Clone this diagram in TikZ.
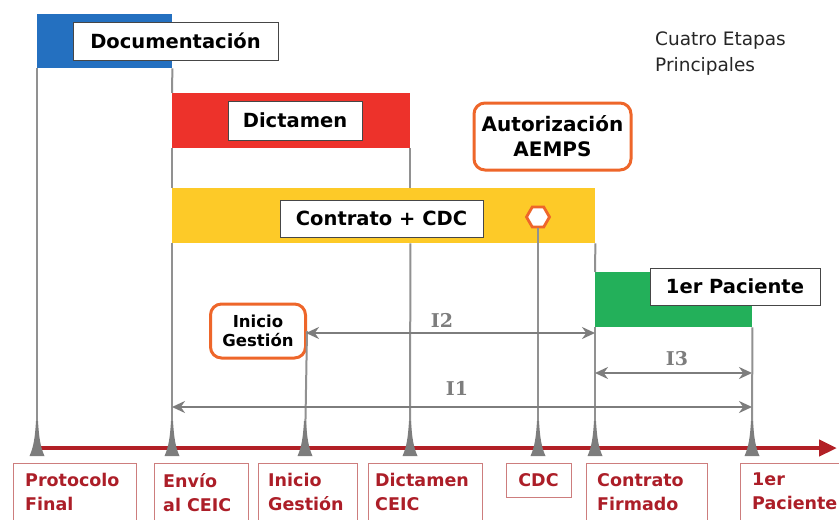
\documentclass[tikz,border=0pt]{standalone}
\usepackage{fontspec}
\setmainfont{DejaVu Sans}
\newfontfamily\serifb{DejaVu Serif}
\usetikzlibrary{arrows.meta,shapes.geometric}
\definecolor{docblue}{RGB}{36,112,192}
\definecolor{dicred}{RGB}{237,50,43}
\definecolor{ctryellow}{RGB}{253,202,40}
\definecolor{pacgreen}{RGB}{35,176,90}
\definecolor{orng}{RGB}{238,102,42}
\definecolor{axisred}{RGB}{178,32,38}
\definecolor{lbltext}{RGB}{172,30,40}
\definecolor{lblborder}{RGB}{205,125,125}
\definecolor{vgrey}{RGB}{145,145,145}
\definecolor{agrey}{RGB}{125,125,125}
\definecolor{lblframe}{RGB}{70,70,70}
\tikzset{
  bar/.style={anchor=north west, inner sep=0pt, draw=none},
  stagelbl/.style={draw=lblframe, line width=1pt, fill=white, inner sep=0pt, font=\bfseries\fontsize{19.5}{22}\selectfont},
  obox/.style={draw=orng, line width=3pt, rounded corners=11pt, fill=white, inner sep=0pt, align=center},
  vline/.style={draw=vgrey, line width=2pt},
  dimarrow/.style={draw=agrey, line width=2.6pt, {Stealth[length=13pt,width=12pt]}-{Stealth[length=13pt,width=12pt]}},
  dimlbl/.style={text=agrey, font=\serifb\bfseries\fontsize{19}{21}\selectfont, inner sep=0pt},
  botbox/.style={draw=lblborder, line width=1.3pt, anchor=north west, inner sep=0pt},
  bottxt/.style={text=lbltext, anchor=north west, inner sep=0pt, align=left, font=\bfseries\fontsize{17.5}{24}\selectfont},
  tick/.style={fill=agrey}
}
\newcommand{\ticktri}[1]{\fill[tick] (#1-1,421) -- (#1+1,421) .. controls (#1+2,438) and (#1+3.5,447) .. (#1+7.5,456) -- (#1-7.5,456) .. controls (#1-3.5,447) and (#1-2,438) .. cycle;}
\begin{document}
\begin{tikzpicture}[x=1pt,y=-1pt]
\useasboundingbox (0,0) rectangle (839,520);
\clip (0,0) rectangle (839,520);

% stage bars
\node[bar, fill=docblue, minimum width=135pt, minimum height=54pt] (doc) at (37,14) {};
\node[bar, fill=dicred, minimum width=238pt, minimum height=55pt] (dic) at (172,93) {};
\node[bar, fill=ctryellow, minimum width=423pt, minimum height=55pt] (ctr) at (172,188) {};
\node[bar, fill=pacgreen, minimum width=157pt, minimum height=55pt] (pac) at (595,272) {};

% stage labels
\node[stagelbl, minimum width=205pt, minimum height=38pt] (docl) at (175.5,41) {Documentación};
\node[stagelbl, minimum width=134pt, minimum height=39pt] (dicl) at (295,120.5) {Dictamen};
\node[stagelbl, minimum width=203pt, minimum height=37pt] (ctrl) at (381.5,218.5) {Contrato + CDC};
\node[stagelbl, minimum width=170pt, minimum height=37pt] (pacl) at (735,286.5) {1er Paciente};

% orange boxes
\node[obox, minimum width=157pt, minimum height=67pt, font=\bfseries\fontsize{20}{25}\selectfont] (aemps) at (552.5,136.5) {Autorización\\AEMPS};
\node[obox, minimum width=95pt, minimum height=54pt, font=\bfseries\fontsize{16.5}{19.5}\selectfont] (ini) at (258,331) {Inicio\\Gestión};
\node[regular polygon, regular polygon sides=6, draw=orng, line width=2.8pt, fill=white, minimum size=23pt, inner sep=0pt] (hex) at (538,217) {};

% title
\node[anchor=north west, inner sep=0pt, align=left, text=black!85, font=\fontsize{18.5}{26}\selectfont] (title) at (655,32) {Cuatro Etapas\\Principales};

% tick coordinates on axis
\coordinate (tP) at (37,448);
\coordinate (tE) at (172,448);
\coordinate (tI) at (305,448);
\coordinate (tD) at (410,448);
\coordinate (tCDC) at (538,448);
\coordinate (tC) at (595,448);
\coordinate (tK) at (752,448);
\coordinate (axS) at (34,448);
\coordinate (axE) at (837,448);

% vertical lines
\draw[vline] (doc.south west) -- (tP);
\draw[vline] (doc.south east) -- (dic.north west);
\draw[vline] (dic.south west) -- (ctr.north west);
\draw[vline] (ctr.south west) -- (tE);
\draw[vline] (dic.south east) -- (dic.south east |- ctr.north);
\draw[vline] (dic.south east |- ctr.south) -- (tD);
\draw[vline] (ctr.south east) -- (pac.north west);
\draw[vline] (pac.south west) -- (tC);
\draw[vline] (pac.south east) -- (tK);
\draw[vline] (hex.south) -- (tCDC);
\draw[vline] (ini.east) -- (tI);

% dimension arrows
\coordinate (i2L) at (306,333);
\coordinate (i2R) at (595,333);
\coordinate (i3L) at (595,373);
\coordinate (i3R) at (752,373);
\coordinate (i1L) at (172,407);
\coordinate (i1R) at (752,407);
\draw[dimarrow] (i2L) -- (i2R);
\draw[dimarrow] (i3L) -- (i3R);
\draw[dimarrow] (i1L) -- (i1R);
\node[dimlbl] (l2) at (442,320) {I2};
\node[dimlbl] (l3) at (677,359) {I3};
\node[dimlbl] (l1) at (457,388) {I1};

% axis
\draw[axisred, line width=4.5pt, -{Triangle[length=18pt,width=16pt]}] (axS) -- (axE);
\ticktri{37}\ticktri{172}\ticktri{305}\ticktri{410}\ticktri{538}\ticktri{595}\ticktri{752}

% bottom labels
\node[botbox, minimum width=123pt, minimum height=80pt] (bP) at (13,463) {};
\node[botbox, minimum width=94pt, minimum height=80pt] (bE) at (154,463) {};
\node[botbox, minimum width=99pt, minimum height=80pt] (bI) at (258,463) {};
\node[botbox, minimum width=114pt, minimum height=80pt] (bD) at (368,463) {};
\node[botbox, minimum width=65pt, minimum height=34pt] (bCDC) at (506,463) {};
\node[botbox, minimum width=121pt, minimum height=80pt] (bC) at (586,463) {};
\node[botbox, minimum width=120pt, minimum height=80pt] (bK) at (740,463) {};
\node[bottxt] (xP) at (25,473) {Protocolo\\Final};
\node[bottxt] (xE) at (163,473) {Envío\\al CEIC};
\node[bottxt] (xI) at (268,473) {Inicio\\Gestión};
\node[bottxt] (xD) at (375,473) {Dictamen\\CEIC};
\node[bottxt, anchor=north] (xCDC) at (538.5,473) {CDC};
\node[bottxt] (xC) at (597,473) {Contrato\\Firmado};
\node[bottxt] (xK) at (752,473) {1er\\Paciente};
\end{tikzpicture}
\end{document}
